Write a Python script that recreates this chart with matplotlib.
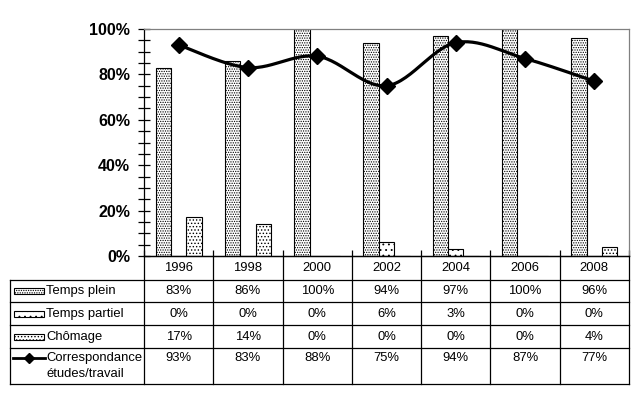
import numpy as np
import matplotlib.pyplot as plt
from matplotlib.patches import Rectangle

plt.rcParams['font.family'] = ['Liberation Sans', 'DejaVu Sans']
plt.rcParams['hatch.linewidth'] = 0.6

years = ['1996', '1998', '2000', '2002', '2004', '2006', '2008']
temps_plein = [83, 86, 100, 94, 97, 100, 96]
temps_partiel = [0, 0, 0, 6, 3, 0, 0]
chomage = [17, 14, 0, 0, 0, 0, 4]
correspondance = [93, 83, 88, 75, 94, 87, 77]
bar_labels = ['Temps plein', 'Temps partiel', 'Chômage']
line_label = 'Correspondance\nétudes/travail'

W, H = 639, 399
fig = plt.figure(figsize=(W / 100, H / 100), dpi=100)

# plot area in pixels
left, right, top, bottom = 144, 629, 29, 256
ax = fig.add_axes([left / W, 1 - bottom / H, (right - left) / W, (bottom - top) / H])

x = np.arange(len(years))
bw = 1 / 4.5
hatches = ['.......', '...', '.....']
bar_data = [temps_plein, temps_partiel, chomage]
for k, vals in enumerate(bar_data):
    ax.bar(x + (k - 1) * bw, np.array(vals) / 100, bw, facecolor='white',
           edgecolor='black', hatch=hatches[k], linewidth=0.8, zorder=2)


def smooth(xs, ys, n=30):
    pts = np.column_stack([xs, ys]).astype(float)
    ext = np.vstack([pts[0], pts, pts[-1]])
    out = []
    t = np.linspace(0, 1, n)[:, None]
    for i in range(len(pts) - 1):
        p0, p3 = ext[i + 1], ext[i + 2]
        c1 = p0 + (ext[i + 2] - ext[i]) / 6
        c2 = p3 - (ext[i + 3] - ext[i + 1]) / 6
        seg = (1 - t) ** 3 * p0 + 3 * (1 - t) ** 2 * t * c1 + 3 * (1 - t) * t ** 2 * c2 + t ** 3 * p3
        out.append(seg)
    out = np.vstack(out)
    return out[:, 0], out[:, 1]


sx, sy = smooth(x, np.array(correspondance) / 100)
ax.plot(sx, sy, color='black', lw=2.3, zorder=3, solid_capstyle='round')
ax.plot(x, np.array(correspondance) / 100, 'D', color='black', ms=8, zorder=4)

ax.set_xlim(-0.5, len(years) - 0.5)
ax.set_ylim(0, 1)
ax.set_yticks(np.arange(0, 1.01, 0.2))
ax.set_yticklabels([f'{int(round(v * 100))}%' for v in np.arange(0, 1.01, 0.2)],
                   fontweight='bold', fontsize=11.5)
ax.set_yticks(np.arange(0, 1.01, 0.05), minor=True)
ax.tick_params(axis='y', which='both', direction='inout', length=8, width=0.9, pad=6)
ax.set_xticks(np.arange(-0.5, len(years), 1))
ax.set_xticklabels([])
ax.tick_params(axis='x', direction='in', length=4, width=0.9)
for s in ['top', 'right']:
    ax.spines[s].set_color('#808080')
    ax.spines[s].set_linewidth(0.9)
for s in ['left', 'bottom']:
    ax.spines[s].set_linewidth(0.9)

# data table under the chart
tleft, tbottom = 10, 384
rows = [256, 280, 302, 325, 348, 384]
unit = (right - left) / len(years)
tx0 = -0.5 - (left - tleft) / unit
tax = fig.add_axes([tleft / W, 1 - tbottom / H, (right - tleft) / W, (tbottom - bottom) / H])
tax.set_xlim(tx0, len(years) - 0.5)
tax.set_ylim(rows[-1], rows[0])
tax.axis('off')

lw = 0.9
tax.plot([-0.5, len(years) - 0.5], [rows[0], rows[0]], color='black', lw=lw, clip_on=False)
for r in rows[1:]:
    tax.plot([tx0, len(years) - 0.5], [r, r], color='black', lw=lw, clip_on=False)
tax.plot([tx0, tx0], [rows[1], rows[-1]], color='black', lw=lw, clip_on=False)
for i in range(len(years) + 1):
    tax.plot([i - 0.5, i - 0.5], [rows[0], rows[-1]], color='black', lw=lw, clip_on=False)

fs = 9.4
for i, yr in enumerate(years):
    tax.text(i, (rows[0] + rows[1]) / 2, yr, ha='center', va='center', fontsize=fs)

px = 1 / unit
sw0, sw1 = tx0 + 4 * px, tx0 + 34 * px
lab_x = tx0 + 36 * px
for k, (name, vals) in enumerate(zip(bar_labels, bar_data)):
    yc = (rows[k + 1] + rows[k + 2]) / 2
    tax.add_patch(Rectangle((sw0, yc - 3), sw1 - sw0, 6, facecolor='white', edgecolor='black',
                            hatch=hatches[k], lw=0.8, clip_on=False))
    tax.text(lab_x, yc, name, ha='left', va='center', fontsize=fs)
    for i, v in enumerate(vals):
        tax.text(i, yc, f'{v}%', ha='center', va='center', fontsize=fs)

yl = rows[4] + 10
tax.plot([tx0 + 3 * px, tx0 + 35 * px], [yl, yl], color='black', lw=2.0, clip_on=False)
tax.plot([tx0 + 19 * px], [yl], 'D', color='black', ms=5, clip_on=False)
tax.text(lab_x, (rows[4] + rows[5]) / 2, line_label, ha='left', va='center', fontsize=fs,
         linespacing=1.35)
for i, v in enumerate(correspondance):
    tax.text(i, yl, f'{v}%', ha='center', va='center', fontsize=fs)

fig.savefig('out.png', dpi=100)
